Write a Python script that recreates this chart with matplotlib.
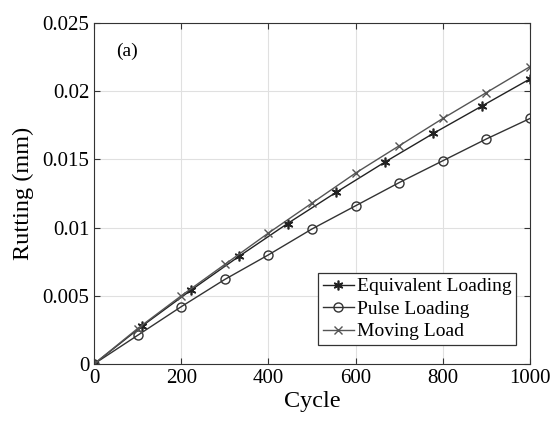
import matplotlib
matplotlib.use("Agg")
import matplotlib.pyplot as plt

plt.rcParams['font.family'] = ['Liberation Serif', 'DejaVu Serif']

# data
eq_x = [0, 111, 222, 333, 444, 556, 667, 778, 889, 1000]
eq_y = [0, 0.0028, 0.0054, 0.0079, 0.0103, 0.0126, 0.0148, 0.0169, 0.0189, 0.0209]
cyc = [0, 100, 200, 300, 400, 500, 600, 700, 800, 900, 1000]
pulse_y = [0, 0.0021, 0.0042, 0.0062, 0.0080, 0.0099, 0.0116, 0.0133, 0.0149, 0.0165, 0.0180]
moving_y = [0, 0.0026, 0.0050, 0.0073, 0.0096, 0.0118, 0.0140, 0.0160, 0.0180, 0.0199, 0.0218]

fig = plt.figure(figsize=(5.53, 4.26), dpi=100)
ax = fig.add_axes([94/553, 1 - 364/426, (530-94)/553, (364-23)/426])

ax.plot(eq_x, eq_y, color='#222222', lw=1.0, marker=(6, 2, 0), ms=7, mew=1.2, label='Equivalent Loading')
ax.plot(cyc, pulse_y, color='#333333', lw=1.0, marker='o', ms=6.5, mfc='none', label='Pulse Loading')
ax.plot(cyc, moving_y, color='#555555', lw=1.0, marker='x', ms=5.5, label='Moving Load')

ax.set_xlim(0, 1000)
ax.set_ylim(0, 0.025)
ax.set_xticks([0, 200, 400, 600, 800, 1000])
ax.set_yticks([0, 0.005, 0.01, 0.015, 0.02, 0.025])
ax.set_yticklabels(['0', '0.005', '0.01', '0.015', '0.02', '0.025'])
ax.grid(True, color='#e0e0e0', lw=0.8)
ax.tick_params(direction='in', top=True, right=True, labelsize=15, length=4, color='#333333')
for s in ax.spines.values():
    s.set_color('#333333')

ax.set_xlabel('Cycle', fontsize=17.5, labelpad=2)
ax.set_ylabel('Rutting (mm)', fontsize=17.5, labelpad=6)
ax.text(50, 0.0229, '(a)', fontsize=14, va='center')

leg = ax.legend(loc='lower right', bbox_to_anchor=(0.968, 0.055), fontsize=14, fancybox=False,
                edgecolor='#333333', framealpha=1, handlelength=1.6, handletextpad=0.15,
                borderpad=0.25, labelspacing=0.25, borderaxespad=0)
leg.get_frame().set_linewidth(0.9)

fig.savefig('out.png', dpi=100)
